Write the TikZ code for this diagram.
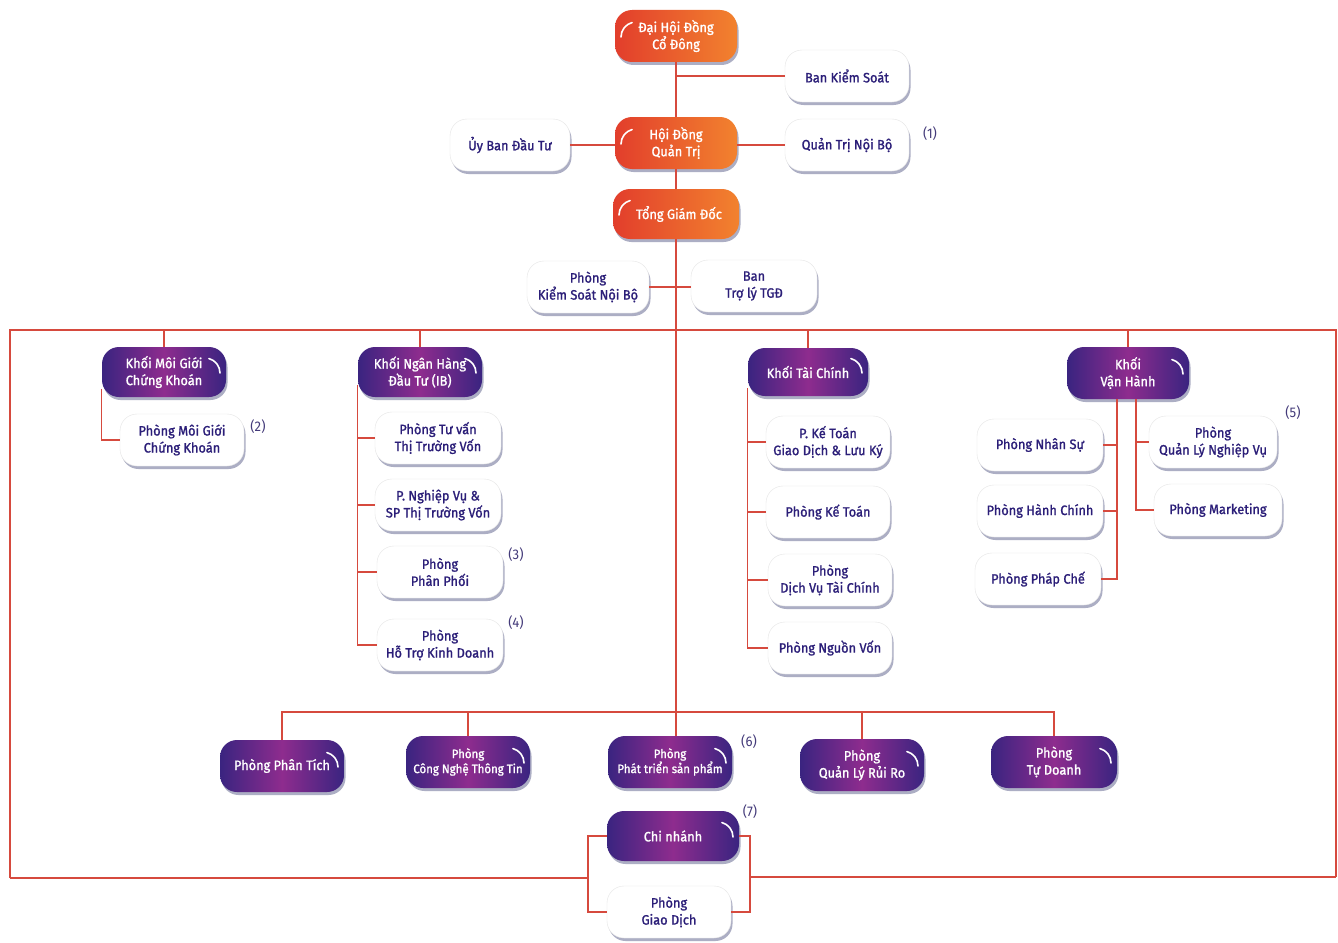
\documentclass[tikz,border=0pt]{standalone}
\usepackage{fontspec}
\setmainfont{Fira Sans}[FakeStretch=0.94, AutoFakeBold=1.3]
\usetikzlibrary{shadows}
\definecolor{lnred}{HTML}{D64A3E}
\definecolor{txtblue}{HTML}{2B1E78}
\definecolor{orA}{HTML}{E23E2C}
\definecolor{orB}{HTML}{F2822E}
\definecolor{puA}{HTML}{3A2480}
\definecolor{puB}{HTML}{8E2C8E}
\definecolor{shd}{HTML}{A4A6BE}
\tikzset{
  pill/.style={rounded corners=17pt, minimum height=52pt, minimum width=124pt, align=center,
    font=\fontsize{13.6}{17}\selectfont\bfseries, inner sep=2pt,
    drop shadow={shadow xshift=1.5pt, shadow yshift=-3pt, fill=shd, opacity=0.9}},
  wbox/.style={pill, fill=white, draw=gray!20, text=txtblue},
  obox/.style={pill, left color=orA, right color=orB, text=white,
    path picture={\draw[white, line width=1.6pt, line cap=round]
      ([xshift=6pt,yshift=-1pt]path picture bounding box.west) arc[start angle=180, end angle=105, radius=15pt];}},
  pbox/.style={pill, left color=puA, right color=puA, middle color=puB, text=white,
    path picture={\draw[white, line width=1.6pt, line cap=round]
      ([xshift=-6pt,yshift=-1pt]path picture bounding box.east) arc[start angle=0, end angle=75, radius=15pt];}},
  small/.style={font=\fontsize{12.2}{15}\selectfont\bfseries},
  note/.style={text=txtblue!70!gray, font=\fontsize{14}{16}\selectfont},
  conn/.style={draw=lnred, line width=1.1pt}
}
\begin{document}
\begin{tikzpicture}[x=1pt,y=-1pt]
\useasboundingbox[fill=white] (0,0) rectangle (1338,942);
% top
\node[obox, minimum width=122pt] (dhdcd) at (676,36) {Đại Hội Đồng\\Cổ Đông};
\node[wbox] (bks) at (847,76) {Ban Kiểm Soát};
\node[obox, minimum width=122pt] (hdqt) at (676,143) {Hội Đồng\\Quản Trị};
\node[wbox, minimum width=120pt] (ubdt) at (510,145) {Ủy Ban Đầu Tư};
\node[wbox] (qtnb) at (847,145) {Quản Trị Nội Bộ};
\node[note] (n1) at (930,134) {(1)};
\node[obox, minimum width=126pt, minimum height=50pt] (tgd) at (676,214) {\hspace*{6pt}Tổng Giám Đốc};
\node[wbox, minimum width=122pt] (pksnb) at (588,287) {Phòng\\Kiểm Soát Nội Bộ};
\node[wbox, minimum width=126pt] (btl) at (754,286) {Ban\\Trợ lý TGĐ};
% khoi
\node[pbox, minimum height=50pt] (kmg) at (164,372) {Khối Môi Giới\\Chứng Khoán};
\node[wbox] (pmg) at (182,440) {Phòng Môi Giới\\Chứng Khoán};
\node[note] (n2) at (258,427) {(2)};
\node[pbox, minimum width=124pt, minimum height=50pt] (kib) at (420,372) {Khối Ngân Hàng\\Đầu Tư (IB)};
\node[wbox, minimum width=126pt] (ptv) at (438,438) {Phòng Tư vấn\\Thị Trường Vốn};
\node[wbox, minimum width=126pt] (pnv) at (438,505) {P. Nghiệp Vụ \&\\SP Thị Trường Vốn};
\node[wbox, minimum width=126pt] (ppp) at (440,572) {Phòng\\Phân Phối};
\node[note] (n3) at (516,555) {(3)};
\node[wbox, minimum width=126pt] (phtkd) at (440,645) {Phòng\\Hỗ Trợ Kinh Doanh};
\node[note] (n4) at (516,623) {(4)};
\node[pbox, minimum width=120pt, minimum height=48pt] (ktc) at (808,372) {Khối Tài Chính};
\node[wbox] (pktgd) at (828,442) {P. Kế Toán\\Giao Dịch \& Lưu Ký};
\node[wbox] (pkt) at (828,512) {Phòng Kế Toán};
\node[wbox] (pdvtc) at (830,580) {Phòng\\Dịch Vụ Tài Chính};
\node[wbox] (pnvon) at (830,648) {Phòng Nguồn Vốn};
\node[pbox, minimum width=122pt] (kvh) at (1128,373) {Khối\\Vận Hành};
\node[wbox, minimum width=126pt] (pns) at (1040,445) {Phòng Nhân Sự};
\node[wbox, minimum width=126pt] (phc) at (1040,511) {Phòng Hành Chính};
\node[wbox, minimum width=126pt] (ppc) at (1038,579) {Phòng Pháp Chế};
\node[wbox, minimum width=128pt] (pqlnv) at (1213,442) {Phòng\\Quản Lý Nghiệp Vụ};
\node[wbox, minimum width=128pt] (pmk) at (1218,510) {Phòng Marketing};
\node[note] (n5) at (1293,413) {(5)};
% bottom row
\node[pbox] (ppt) at (282,766) {Phòng Phân Tích};
\node[pbox, small] (pcntt) at (468,762) {Phòng\\Công Nghệ Thông Tin};
\node[pbox, small] (pptsp) at (670,762) {Phòng\\Phát triển sản phẩm};
\node[note] (n6) at (749,742) {(6)};
\node[pbox] (pqlrr) at (862,765) {Phòng\\Quản Lý Rủi Ro};
\node[pbox, minimum width=126pt] (ptd) at (1054,762) {Phòng\\Tự Doanh};
\node[pbox, minimum width=132pt, minimum height=50pt] (cn) at (673,836) {Chi nhánh};
\node[note] (n7) at (750,812) {(7)};
\node[wbox] (pgd) at (669,912) {Phòng\\Giao Dịch};
% coordinates
\coordinate (fTL) at (10,330);
\coordinate (fTR) at (1336,330);
\coordinate (fBL) at (10,878);
\coordinate (fBR) at (1336,877);
\coordinate (bl) at (588,878);
\coordinate (br) at (750,877);
\coordinate (bar) at (676,712);
% connectors
\draw[conn] (dhdcd.south) -- (hdqt.north);
\draw[conn] (dhdcd.south |- bks.west) -- (bks.west);
\draw[conn] (ubdt.east) -- (ubdt.east -| hdqt.west);
\draw[conn] (hdqt.east |- qtnb.west) -- (qtnb.west);
\draw[conn] (hdqt.south) -- (tgd.north);
\draw[conn] (tgd.south) -- (tgd.south |- pptsp.north);
\draw[conn] (pksnb.east) -- (pksnb.east -| btl.west);
\draw[conn] (fBL) -- (fTL) -- (fTR) -- (fBR);
\draw[conn] (fBL) -- (bl);
\draw[conn] (br) -- (fBR);
\draw[conn] (cn.west) -| (bl) |- (pgd.west);
\draw[conn] (cn.east) -| (br) |- (pgd.east);
\draw[conn] (kmg.north) -- (kmg.north |- fTL);
\draw[conn] (kib.north) -- (kib.north |- fTL);
\draw[conn] (ktc.north) -- (ktc.north |- fTL);
\draw[conn] (kvh.north) -- (kvh.north |- fTL);
\draw[conn] ([yshift=8pt]kmg.south west) |- (pmg.west);
\draw[conn] ([yshift=12pt]kib.south west) |- (ptv.west);
\draw[conn] ([yshift=12pt]kib.south west) |- (pnv.west);
\draw[conn] ([yshift=12pt]kib.south west) |- (ppp.west);
\draw[conn] ([yshift=12pt]kib.south west) |- (phtkd.west);
\draw[conn] ([yshift=8pt]ktc.south west) |- (pktgd.west);
\draw[conn] ([yshift=8pt]ktc.south west) |- (pkt.west);
\draw[conn] ([yshift=8pt]ktc.south west) |- (pdvtc.west);
\draw[conn] ([yshift=8pt]ktc.south west) |- (pnvon.west);
\draw[conn] ([xshift=-11pt]kvh.south) |- (pns.east);
\draw[conn] ([xshift=-11pt]kvh.south) |- (phc.east);
\draw[conn] ([xshift=-11pt]kvh.south) |- (ppc.east);
\draw[conn] ([xshift=8pt]kvh.south) |- (pqlnv.west);
\draw[conn] ([xshift=8pt]kvh.south) |- (pmk.west);
\draw[conn] (ppt.north) |- (bar);
\draw[conn] (pcntt.north) |- (bar);
\draw[conn] (ptd.north) |- (bar);
\draw[conn] (pqlrr.north) |- (bar);
\end{tikzpicture}
\end{document}
